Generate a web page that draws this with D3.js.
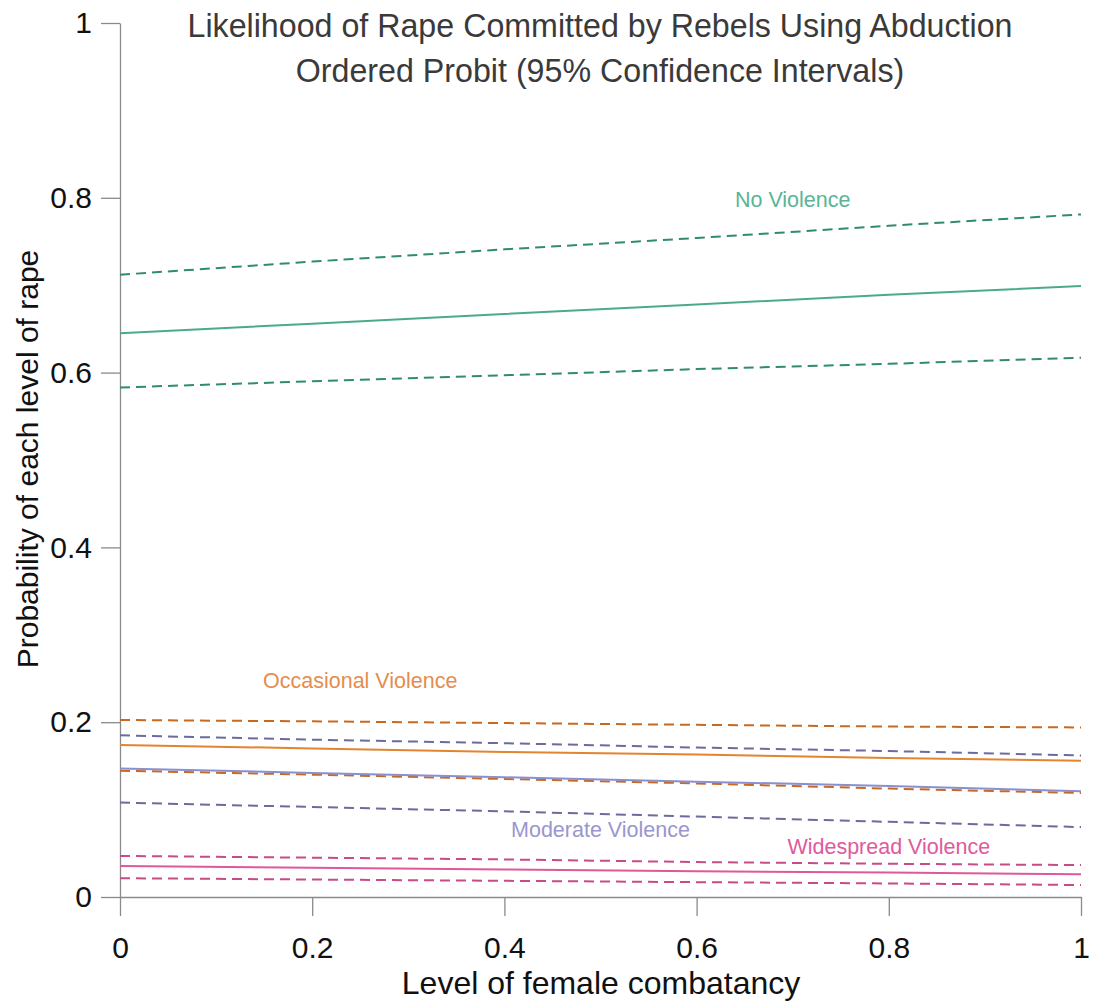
<!DOCTYPE html>
<html>
<head>
<meta charset="utf-8">
<script src="https://cdn.jsdelivr.net/npm/d3@7"></script>
<style>
  body { margin: 0; background: #fff; }
  svg { display: block; }
  .tick text { font-family: "Liberation Sans", Arial, sans-serif; fill: #111; }
</style>
</head>
<body>
<div id="chart"></div>
<script>
// x values where the predicted probabilities were read
const xs = [0, 0.2, 0.4, 0.6, 0.8, 1];

const noViol      = [0.645, 0.656, 0.667, 0.678, 0.689, 0.699];
const noViolHi    = [0.712, 0.727, 0.741, 0.754, 0.768, 0.781];
const noViolLo    = [0.583, 0.590, 0.597, 0.604, 0.610, 0.617];

const occViol     = [0.174, 0.170, 0.166, 0.163, 0.159, 0.156];
const occViolHi   = [0.2025, 0.201, 0.199, 0.197, 0.195, 0.194];
const occViolLo   = [0.1445, 0.140, 0.135, 0.130, 0.124, 0.119];

const modViol     = [0.147, 0.142, 0.137, 0.132, 0.127, 0.121];
const modViolHi   = [0.185, 0.180, 0.176, 0.171, 0.167, 0.162];
const modViolLo   = [0.108, 0.103, 0.098, 0.092, 0.086, 0.080];

const wideViol    = [0.0355, 0.0335, 0.0315, 0.0295, 0.028, 0.026];
const wideViolHi  = [0.047, 0.045, 0.043, 0.040, 0.038, 0.0365];
const wideViolLo  = [0.0215, 0.020, 0.0185, 0.017, 0.0155, 0.0137];

const xTicks = [0, 0.2, 0.4, 0.6, 0.8, 1];
const yTicks = [0, 0.2, 0.4, 0.6, 0.8, 1];

const groups = [
  {name: "No Violence", mid: noViol, hi: noViolHi, lo: noViolLo,
   line: "#4aab8b", dash: "#2f8c6e", text: "#5ab596", lx: 0.7, ly: 0.798},
  {name: "Occasional Violence", mid: occViol, hi: occViolHi, lo: occViolLo,
   line: "#e3852f", dash: "#c9681f", text: "#e48d4f", lx: 0.25, ly: 0.248},
  {name: "Moderate Violence", mid: modViol, hi: modViolHi, lo: modViolLo,
   line: "#8a8fd0", dash: "#6b6b9f", text: "#9a96cf", lx: 0.5, ly: 0.077},
  {name: "Widespread Violence", mid: wideViol, hi: wideViolHi, lo: wideViolLo,
   line: "#e0589c", dash: "#c94a88", text: "#e05a9c", lx: 0.8, ly: 0.058}
];

const width = 1093, height = 1002;

const svg = d3.select("#chart").append("svg")
  .attr("width", width)
  .attr("height", height);

const x = d3.scaleLinear().domain([0, 1]).range([120, 1081]);
const y = d3.scaleLinear().domain([0, 1]).range([897, 23]);

const fmt = d => d === 0 ? "0" : d === 1 ? "1" : d3.format(".1f")(d);

const yAxis = svg.append("g")
  .attr("transform", "translate(120,0)")
  .call(d3.axisLeft(y).tickValues(yTicks).tickFormat(fmt)
    .tickSize(19).tickSizeOuter(0).tickPadding(9));
yAxis.selectAll("text").style("font-size", "30px");

const xAxis = svg.append("g")
  .attr("transform", "translate(0,897)")
  .call(d3.axisBottom(x).tickValues(xTicks).tickFormat(fmt)
    .tickSize(19).tickSizeOuter(0).tickPadding(21));
xAxis.selectAll("text").style("font-size", "30px");

svg.selectAll(".domain, .tick line").attr("stroke", "#8a8a8a").attr("stroke-width", 1.3);

const line = d3.line()
  .x((d, i) => x(xs[i]))
  .y(d => y(d));

groups.forEach(g => {
  [g.hi, g.lo].forEach(arr => {
    svg.append("path")
      .datum(arr)
      .attr("d", line)
      .attr("fill", "none")
      .attr("stroke", g.dash)
      .attr("stroke-width", 2)
      .attr("stroke-dasharray", "10,6");
  });
  svg.append("path")
    .datum(g.mid)
    .attr("d", line)
    .attr("fill", "none")
    .attr("stroke", g.line)
    .attr("stroke-width", 2);
  svg.append("text")
    .attr("x", x(g.lx))
    .attr("y", y(g.ly))
    .attr("text-anchor", "middle")
    .attr("dy", "0.35em")
    .style("font-family", "'Liberation Sans', Arial, sans-serif")
    .style("font-size", "21.5px")
    .attr("fill", g.text)
    .text(g.name);
});

// titles (narrow look: scaled horizontally)
const title = svg.append("text")
  .attr("text-anchor", "middle")
  .attr("transform", "translate(600,0) scale(0.947,1)")
  .style("font-family", "'Liberation Sans', Arial, sans-serif")
  .style("font-size", "34px")
  .attr("fill", "#3a3a3a");
title.append("tspan").attr("x", 0).attr("y", 37).text("Likelihood of Rape Committed by Rebels Using Abduction");
title.append("tspan").attr("x", 0).attr("y", 82).text("Ordered Probit (95% Confidence Intervals)");

svg.append("text")
  .attr("x", 601)
  .attr("y", 994)
  .attr("text-anchor", "middle")
  .style("font-family", "'Liberation Sans', Arial, sans-serif")
  .style("font-size", "32px")
  .attr("fill", "#111")
  .text("Level of female combatancy");

svg.append("text")
  .attr("transform", "translate(38,459) rotate(-90)")
  .attr("text-anchor", "middle")
  .style("font-family", "'Liberation Sans', Arial, sans-serif")
  .style("font-size", "30px")
  .attr("fill", "#111")
  .text("Probability of each level of rape");
</script>
</body>
</html>
